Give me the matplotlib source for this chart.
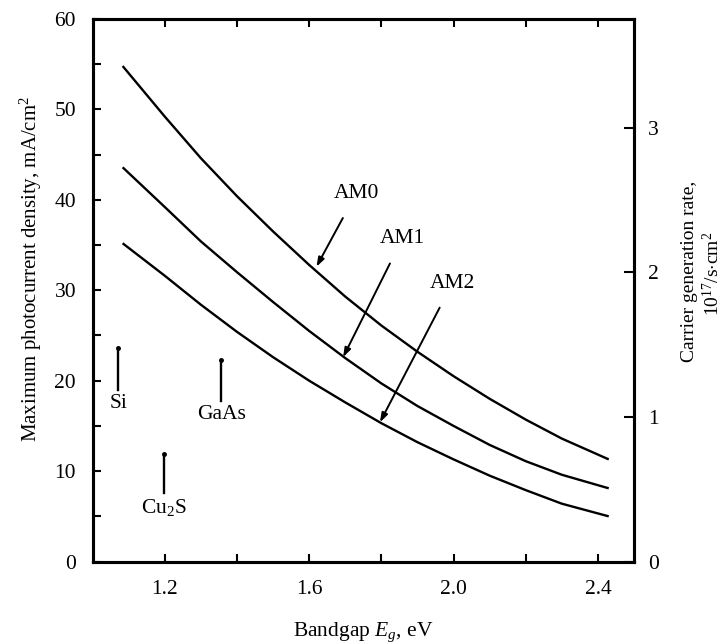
import matplotlib
matplotlib.use("Agg")
import matplotlib.pyplot as plt
from matplotlib.ticker import MultipleLocator, FixedLocator

plt.rcParams['font.family'] = ['Liberation Serif', 'DejaVu Serif']
plt.rcParams['mathtext.fontset'] = 'custom'
plt.rcParams['mathtext.it'] = 'Liberation Serif:italic'
plt.rcParams['mathtext.rm'] = 'Liberation Serif'

# Bandgap (eV) sample points
bandgap = [1.083, 1.2, 1.3, 1.4, 1.5, 1.6, 1.7, 1.8, 1.9, 2.0, 2.1, 2.2, 2.3, 2.43]
# Maximum photocurrent density (mA/cm^2)
am0 = [54.8, 49.2, 44.6, 40.4, 36.5, 32.8, 29.3, 26.1, 23.2, 20.5, 18.0, 15.7, 13.6, 11.3]
am1 = [43.6, 39.2, 35.4, 32.0, 28.7, 25.5, 22.5, 19.7, 17.2, 15.0, 12.9, 11.1, 9.6, 8.1]
am2 = [35.2, 31.6, 28.4, 25.4, 22.6, 20.0, 17.6, 15.3, 13.2, 11.3, 9.5, 7.9, 6.4, 5.0]

curve_labels = ["AM0", "AM1", "AM2"]
label_text_pos = [(1.73, 40.7), (1.858, 35.7), (1.997, 30.8)]
label_arrow_tip = [(1.620, 32.6), (1.694, 22.6), (1.796, 15.4)]

materials = ["Si", "GaAs", "Cu$_2$S"]
mat_eg = [1.071, 1.356, 1.198]
mat_top = [23.6, 22.3, 11.9]
mat_bottom = [19.0, 17.8, 7.6]

xticks_major = [1.2, 1.6, 2.0, 2.4]
x_tick_labels = ["1.2", "1.6", "2.0", "2.4"]
J_PER_1E17 = 16.0  # mA/cm^2 per 1e17 /s cm^2

right_label_lines = ["Carrier generation rate,", "10$^{17}$/s$\\cdot$cm$^2$"]

FS = 15.5

fig = plt.figure(figsize=(7.28, 6.44), dpi=100)
ax = fig.add_axes([0.1273, 0.128, 0.8709 - 0.1273, 0.9705 - 0.128])

for y in (am0, am1, am2):
    ax.plot(bandgap, y, color='black', lw=1.7, solid_capstyle='butt',
            solid_joinstyle='round')

for lab, (tx, ty), (ax_, ay) in zip(curve_labels, label_text_pos, label_arrow_tip):
    ax.annotate(lab, xy=(ax_, ay), xytext=(tx, ty), ha='center', va='center',
                fontsize=FS,
                arrowprops=dict(arrowstyle='-|>,head_length=0.35,head_width=0.12',
                                color='black', lw=1.4, shrinkA=10, shrinkB=0))

for name, e, t, b in zip(materials, mat_eg, mat_top, mat_bottom):
    ax.plot([e, e], [b, t], color='black', lw=1.7)
    ax.plot([e], [t], marker='o', ms=2.5, color='black')
    ax.text(e, b - 0.5, name, ha='center', va='top', fontsize=FS)

ax.set_xlim(1.0, 2.5)
ax.set_ylim(0, 60)
ax.xaxis.set_major_locator(FixedLocator(xticks_major))
ax.set_xticklabels(x_tick_labels)
ax.xaxis.set_minor_locator(FixedLocator([1.4, 1.8, 2.2]))
ax.yaxis.set_major_locator(MultipleLocator(10))
ax.yaxis.set_minor_locator(MultipleLocator(5))
ax.tick_params(which='both', direction='in', top=True, right=False, labelsize=FS,
               width=1.5, length=6)
ax.tick_params(axis='x', which='both', pad=13)
ax.tick_params(axis='y', which='both', pad=12)
for s in ax.spines.values():
    s.set_linewidth(2.2)

ax.set_xlabel("Bandgap $E_g$, eV", fontsize=FS, labelpad=16)
ax.set_ylabel("Maximum photocurrent density, mA/cm$^2$", fontsize=15)
ax.yaxis.set_label_coords(-0.09, 0.54)

ax2 = ax.twinx()
ax2.set_ylim(0, 60 / J_PER_1E17)
ax2.yaxis.set_major_locator(FixedLocator([0, 1, 2, 3]))
ax2.tick_params(direction='in', labelsize=FS, width=1.5, length=7, pad=10)
for s in ax2.spines.values():
    s.set_linewidth(2.2)

fig.text(689 / 728, 1 - 271 / 644, right_label_lines[0], rotation=90,
         ha='center', va='center', fontsize=14)
fig.text(713 / 728, 1 - 274 / 644, right_label_lines[1], rotation=90,
         ha='center', va='center', fontsize=14)

fig.savefig("out.png", dpi=100, facecolor='white')
